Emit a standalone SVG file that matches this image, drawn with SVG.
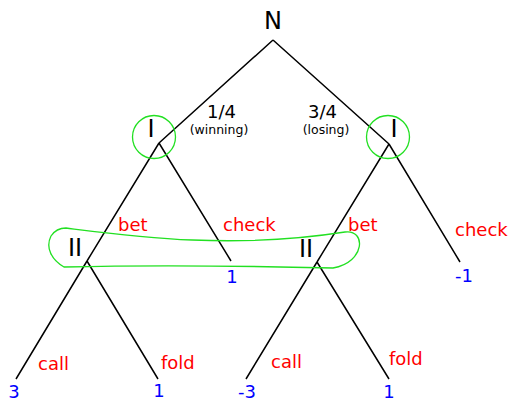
<svg xmlns="http://www.w3.org/2000/svg" width="513" height="403" viewBox="0 0 513 403">
<style>
text{font-family:"DejaVu Sans",sans-serif}
.n{font-size:24px;fill:#000}
.p{font-size:18px;fill:#000}
.s{font-size:12.5px;fill:#000}
.a{font-size:18px;fill:#ff0000}
.v{font-size:18px;fill:#0000ff;text-anchor:middle}
.e{stroke:#000;stroke-width:1.5;fill:none}
.g{stroke:#22e022;stroke-width:1.3;fill:none}
</style>
<rect width="513" height="403" fill="#fff"/>
<g id="connectors">
<path class="e" d="M273,40 L159,143 M273,40 L389,144"/>
<path class="e" d="M159,143 L87,261 M159,143 L231,261"/>
<path class="e" d="M389,144 L317,262 M389,144 L460,262"/>
<path class="e" d="M87,261 L16,379 M87,261 L158,379"/>
<path class="e" d="M317,262 L246,379 M317,262 L389,379"/>
</g>
<g id="nodeN"><text class="n" x="273" y="29" text-anchor="middle">N</text></g>
<g id="chance-labels">
<text class="p" x="207" y="118">1/4</text>
<text class="s" x="219" y="134" text-anchor="middle">(winning)</text>
<text class="p" x="308" y="118">3/4</text>
<text class="s" x="326" y="134" text-anchor="middle">(losing)</text>
</g>
<g id="nodeI-left">
<circle class="g" cx="154" cy="137" r="21.5"/>
<text class="n" x="151" y="137" text-anchor="middle">I</text>
</g>
<g id="nodeI-right">
<circle class="g" cx="388" cy="137" r="21.5"/>
<text class="n" x="394" y="137" text-anchor="middle">I</text>
</g>
<g id="infoset-II">
<path class="g" d="M66,228 C130,236 230,250 345,232 C366,229 366,262 333,268 C250,266 150,265 64,267 C52,260 45,248 51,236 C55,230 60,228 66,228 Z"/>
<text class="n" x="68" y="256">II</text>
<text class="n" x="299" y="257">II</text>
</g>
<g id="action-labels">
<text class="a" x="118" y="231">bet</text>
<text class="a" x="223" y="231">check</text>
<text class="a" x="348" y="231">bet</text>
<text class="a" x="455" y="236">check</text>
<text class="a" x="38" y="370">call</text>
<text class="a" x="161" y="369">fold</text>
<text class="a" x="271" y="368">call</text>
<text class="a" x="389" y="365">fold</text>
</g>
<g id="payoffs">
<text class="v" x="232" y="283">1</text>
<text class="v" x="464" y="282">-1</text>
<text class="v" x="14" y="398">3</text>
<text class="v" x="159" y="397">1</text>
<text class="v" x="247" y="398">-3</text>
<text class="v" x="389" y="398">1</text>
</g>
</svg>
